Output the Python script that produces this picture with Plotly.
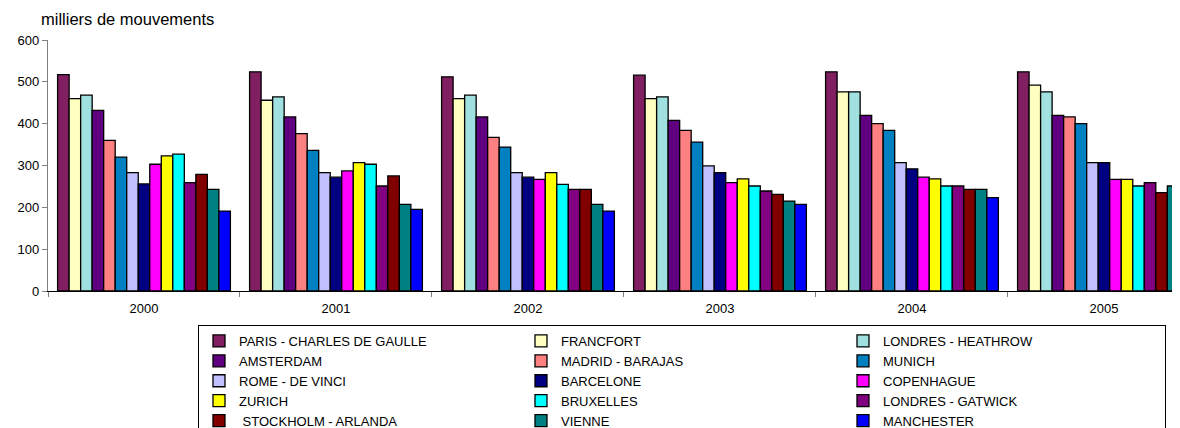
import plotly.graph_objects as go

years = ["2000", "2001", "2002", "2003", "2004", "2005"]

airports = [
    "PARIS - CHARLES DE GAULLE", "FRANCFORT", "LONDRES - HEATHROW",
    "AMSTERDAM", "MADRID - BARAJAS", "MUNICH",
    "ROME - DE VINCI", "BARCELONE", "COPENHAGUE",
    "ZURICH", "BRUXELLES", "LONDRES - GATWICK",
    " STOCKHOLM - ARLANDA", "VIENNE", "MANCHESTER",
]

colors = [
    "#802060", "#FFFFC0", "#A0E0E0",
    "#600080", "#FF8080", "#0080C0",
    "#C0C0FF", "#000080", "#FF00FF",
    "#FFFF00", "#00FFFF", "#800080",
    "#800000", "#008080", "#0000FF",
]

paris = [517, 524, 512, 516, 524, 524]
francfort = [460, 456, 460, 460, 476, 492]
heathrow = [468, 464, 468, 464, 476, 476]
amsterdam = [432, 416, 416, 408, 420, 420]
madrid = [360, 376, 367, 384, 400, 416]
munich = [320, 336, 344, 356, 384, 400]
rome = [283, 283, 283, 299, 307, 307]
barcelone = [256, 272, 272, 283, 292, 307]
copenhague = [303, 287, 267, 259, 272, 267]
zurich = [323, 307, 283, 268, 268, 267]
bruxelles = [327, 303, 255, 251, 251, 251]
gatwick = [259, 251, 243, 239, 251, 259]
stockholm = [279, 275, 243, 231, 243, 235]
vienne = [243, 207, 207, 215, 243, 251]
manchester = [191, 195, 191, 207, 223, 228]

series = [paris, francfort, heathrow, amsterdam, madrid, munich, rome,
          barcelone, copenhague, zurich, bruxelles, gatwick, stockholm,
          vienne, manchester]

FONT = "Liberation Sans, Arial, sans-serif"

fig = go.Figure()
for name, col, vals in zip(airports, colors, series):
    fig.add_trace(go.Bar(
        x=years, y=vals, name=name,
        marker=dict(color=col, line=dict(color="#000000", width=1.3)),
    ))

fig.update_layout(
    width=1172, height=428,
    margin=dict(l=40, r=0, t=32, b=145, autoexpand=False),
    paper_bgcolor="white", plot_bgcolor="white",
    barmode="group", bargap=0.1, bargroupgap=0,
    font=dict(family=FONT, size=11, color="#000000"),
    showlegend=True,
    legend=dict(
        orientation="h",
        x=0.1325, xanchor="left",
        y=-0.1355, yanchor="top",
        entrywidth=277, entrywidthmode="pixels",
        bordercolor="#000000", borderwidth=1,
        font=dict(family=FONT, size=13, color="#000000"),
        traceorder="normal",
        itemwidth=30,
    ),
    annotations=[dict(
        text="milliers de mouvements", x=0, y=1, xref="paper", yref="paper",
        xanchor="left", yanchor="bottom", xshift=-9, yshift=10,
        showarrow=False, font=dict(family=FONT, size=16.5, color="#000000"),
    )],
)

fig.update_xaxes(
    type="category", range=[-0.5, 5.396],
    showline=True, linecolor="#000000", linewidth=1.3,
    ticks="outside", tickson="boundaries", ticklen=5, tickcolor="#808080",
    showgrid=False, zeroline=False,
    ticklabelstandoff=5,
    tickfont=dict(family=FONT, size=13),
)
fig.update_yaxes(
    range=[0, 600], dtick=100,
    showline=True, linecolor="#808080", linewidth=1.3,
    ticks="outside", ticklen=5, tickcolor="#808080",
    showgrid=False, zeroline=False,
    tickfont=dict(family=FONT, size=13),
)

fig.write_html("out.html")
